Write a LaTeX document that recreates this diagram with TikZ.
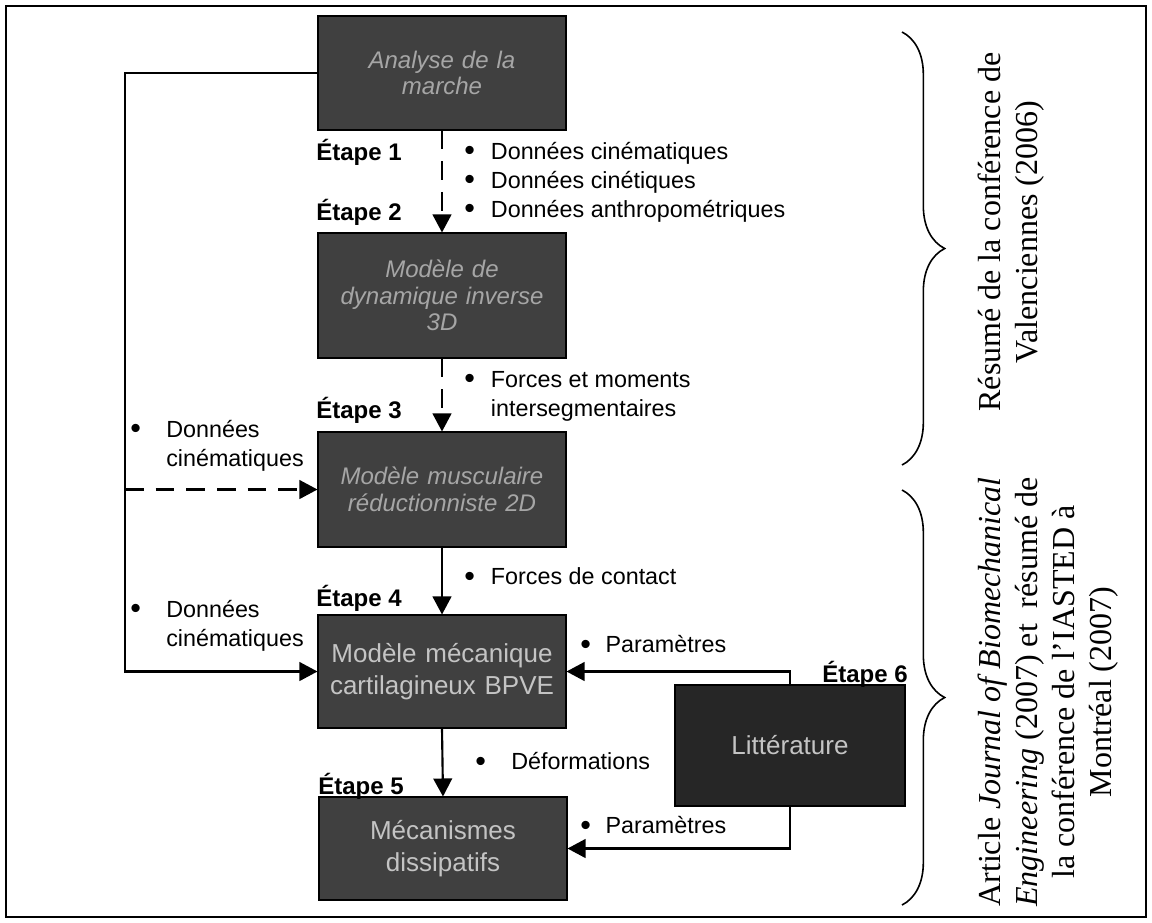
\documentclass[tikz,border=0pt]{standalone}
\usepackage{fontspec}
\usepackage{graphicx}
\setmainfont{Liberation Sans}
\newfontfamily\seriffont{Liberation Serif}
\usetikzlibrary{arrows.meta,decorations.pathreplacing,calc}
\definecolor{boxgray}{HTML}{404040}
\definecolor{boxdark}{HTML}{262626}
\definecolor{boxtext}{HTML}{A6A6A6}
\definecolor{boxtextlight}{HTML}{C4C4C4}
\newcommand\blt[1]{\makebox[#1][l]{\raisebox{-0.1ex}{\scalebox{1.3}{\textbullet}}}}
\begin{document}
\begin{tikzpicture}[x=0.75pt,y=-0.75pt,
  box/.style={draw=black,line width=0.8pt,fill=boxgray,minimum width=186pt,text width=180pt,align=center,inner sep=0pt,text=boxtext,font=\itshape\fontsize{18pt}{20pt}\selectfont},
  boxup/.style={box,text=boxtextlight,font=\fontsize{19.5pt}{24pt}\selectfont},
  etape/.style={inner sep=0pt,font=\bfseries\fontsize{18pt}{20pt}\selectfont},
  lab/.style={font=\fontsize{17.5pt}{21.75pt}\selectfont,align=left,inner sep=0pt,anchor=west},
  conn/.style={line width=1.6pt},
  arr/.style={conn,-{Triangle[length=13.5pt,width=14pt]}},
  dashline/.style={dash pattern=on 14pt off 9pt},
  bracestyle/.style={line width=1.2pt,decorate,decoration={brace,amplitude=32pt}},
  rtext/.style={rotate=90,align=center,inner sep=0pt,font=\seriffont\fontsize{24pt}{27.75pt}\selectfont}
]
\useasboundingbox (0,0) rectangle (1152,922);
\coordinate (fr1) at (6,6);
\coordinate (fr2) at (1146,917);
\draw[line width=1.5pt] (fr1) rectangle (fr2);

% boxes
\node[box,minimum height=85.5pt] (b1) at (442,73) {Analyse de la\\marche};
\node[box,minimum height=93.75pt] (b2) at (442,295.5) {Modèle de\\dynamique inverse\\3D};
\node[box,minimum height=86.25pt] (b3) at (442,489.5) {Modèle musculaire\\réductionniste 2D};
\node[boxup,minimum height=84.75pt] (b4) at (442,671.5) {Modèle mécanique\\cartilagineux BPVE};
\node[boxup,minimum height=77.25pt] (b5) at (443,848.5) {Mécanismes\\dissipatifs};
\node[boxup,fill=boxdark,minimum width=172.5pt,text width=165pt,minimum height=90.75pt] (b6) at (790,745.5) {Littérature};

% etape labels
\node[etape,anchor=west] (e1) at (316,152) {Étape 1};
\node[etape,anchor=west] (e2) at (316,212) {Étape 2};
\node[etape,anchor=west] (e3) at (316,410) {Étape 3};
\node[etape,anchor=west] (e4) at (316,598) {Étape 4};
\node[etape,anchor=west] (e5) at (318,786) {Étape 5};
\node[etape,anchor=east] (e6) at (908,674) {Étape 6};

% main flow
\draw[arr,dashline] (b1.south) -- (b2.north);
\draw[arr,dashline] (b2.south) -- (b3.north);
\draw[arr] (b3.south) -- (b4.north);
\draw[arr] (b4.south) -- (b5.north);

% left feedback line
\coordinate (lx) at (125,0);
\coordinate (lc) at (b3.west -| lx);
\draw[conn] (b1.west) -| (lc);
\draw[arr] (lc) |- (b4.west);
\draw[arr,dashline] (lc) -- (b3.west);

% literature
\draw[arr] (b6.north) |- (b4.east);
\draw[arr] (b6.south) |- (b5.east);

% labels
\node[lab] (l1) at (464,182) {\blt{20pt}Données cinématiques\\\blt{20pt}Données cinétiques\\\blt{20pt}Données anthropométriques};
\node[lab] (l2) at (464,396) {\blt{20pt}Forces et moments\\\hspace*{20pt}intersegmentaires};
\node[lab] (l3) at (464,577) {\blt{20pt}Forces de contact};
\node[lab] (l4) at (475,762) {\blt{27pt}Déformations};
\node[lab] (l5) at (580,645) {\blt{19pt}Paramètres};
\node[lab] (l6) at (580,826) {\blt{19pt}Paramètres};
\node[lab] (l7) at (130,446) {\blt{27pt}Données\\\hspace*{27pt}cinématiques};
\node[lab] (l8) at (130,626) {\blt{27pt}Données\\\hspace*{27pt}cinématiques};

% braces
\coordinate (br1a) at (902,32);
\coordinate (br1b) at (902,465);
\coordinate (br2a) at (902,490);
\coordinate (br2b) at (902,905);
\draw[bracestyle] (br1a) -- (br1b);
\draw[bracestyle] (br2a) -- (br2b);

% right texts
\node[rtext] (t1) at (1011,232) {Résumé de la conférence de\\Valenciennes (2006)};
\node[rtext] (t2) at (1048,692) {Article \textit{Journal of Biomechanical}\\\textit{Engineering} (2007) et \ résumé de\\la conférence de l’IASTED à\\Montréal (2007)};
\end{tikzpicture}
\end{document}
